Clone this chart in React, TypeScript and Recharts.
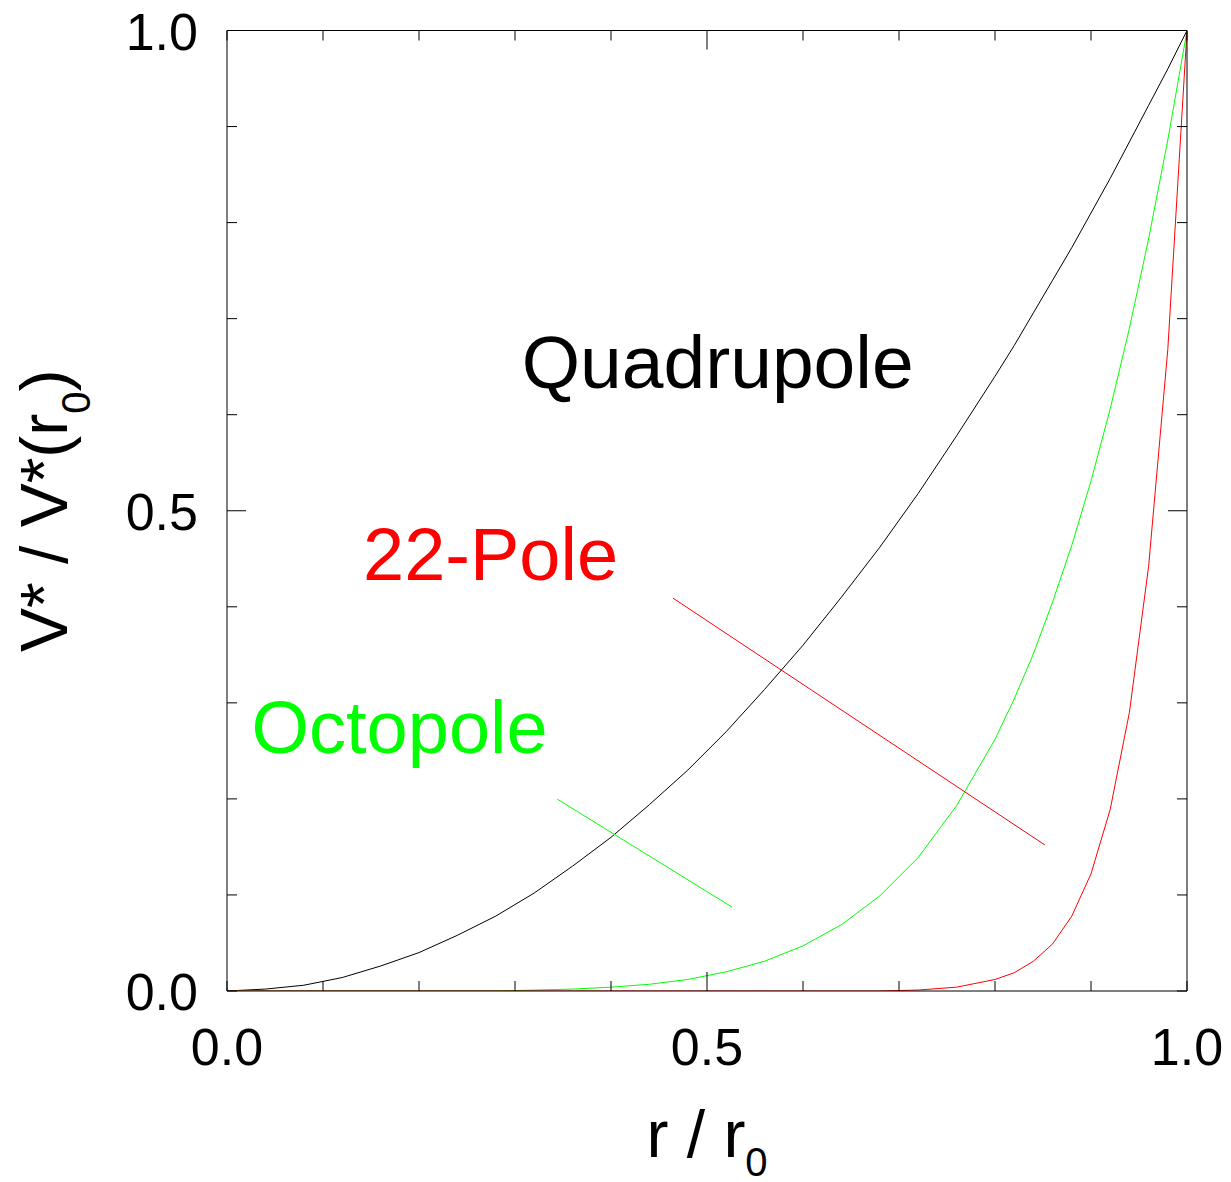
import React from "react";
import { LineChart, Line, XAxis, YAxis, ReferenceLine, ReferenceDot } from "recharts";

// r / r0 sample points
const radius = [
  0, 0.04, 0.08, 0.12, 0.16, 0.2, 0.24, 0.28, 0.32, 0.36, 0.4, 0.44, 0.48, 0.52, 0.56,
  0.6, 0.64, 0.68, 0.72, 0.76, 0.8, 0.82, 0.84, 0.86, 0.88, 0.9, 0.92, 0.94, 0.96, 0.98, 1.0,
];
// V* / V*(r0) for each trap type
const quadrupole = [
  0, 0.002, 0.006, 0.014, 0.026, 0.04, 0.058, 0.078, 0.102, 0.13, 0.16, 0.194, 0.23, 0.27, 0.314,
  0.36, 0.41, 0.462, 0.518, 0.578, 0.64, 0.672, 0.706, 0.74, 0.774, 0.81, 0.846, 0.884, 0.922, 0.96, 1.0,
];
const octopole = [
  0, 0, 0, 0, 0, 0, 0, 0, 0.001, 0.002, 0.004, 0.007, 0.012, 0.02, 0.031,
  0.047, 0.069, 0.099, 0.139, 0.193, 0.262, 0.304, 0.351, 0.405, 0.464, 0.531, 0.606, 0.69, 0.783, 0.886, 1.0,
];
const pole22 = [
  0, 0, 0, 0, 0, 0, 0, 0, 0, 0, 0, 0, 0, 0, 0,
  0, 0, 0, 0.001, 0.004, 0.012, 0.019, 0.031, 0.049, 0.078, 0.122, 0.189, 0.29, 0.442, 0.668, 1.0,
];

const axisTicks = [0, 0.1, 0.2, 0.3, 0.4, 0.5, 0.6, 0.7, 0.8, 0.9, 1.0];
const tickLabels: Record<string, string> = { "0": "0.0", "0.5": "0.5", "1": "1.0" };

const rows = radius.map((r, i) => ({
  r,
  quad: quadrupole[i],
  oct: octopole[i],
  p22: pole22[i],
}));

const FONT = "'Liberation Sans', Arial, Helvetica, sans-serif";
const W = 1231;
const H = 1182;

const tickLen = (v: number) => (Math.abs(v - 0.5) < 1e-6 ? 19 : 10);

function BottomTick({ x, y, payload }: any) {
  const v = payload.value;
  const label = tickLabels[String(v)];
  return (
    <g>
      <line x1={x} x2={x} y1={y} y2={y - tickLen(v)} stroke="#000" />
      {label && (
        <text x={x} y={y + 74} textAnchor="middle" fontSize={52} fontFamily={FONT} fill="#000">
          {label}
        </text>
      )}
    </g>
  );
}

function TopTick({ x, y, payload }: any) {
  return <line x1={x} x2={x} y1={y} y2={y + tickLen(payload.value)} stroke="#000" />;
}

function LeftTick({ x, y, payload }: any) {
  const v = payload.value;
  const label = tickLabels[String(v)];
  return (
    <g>
      <line x1={x} x2={x + tickLen(v)} y1={y} y2={y} stroke="#000" />
      {label && (
        <text x={x - 29} y={y + 19} textAnchor="end" fontSize={52} fontFamily={FONT} fill="#000">
          {label}
        </text>
      )}
    </g>
  );
}

function RightTick({ x, y, payload }: any) {
  return <line x1={x} x2={x - tickLen(payload.value)} y1={y} y2={y} stroke="#000" />;
}

function XTitle({ viewBox }: any) {
  const cx = viewBox.x + viewBox.width / 2;
  return (
    <text x={cx} y={viewBox.y + 166} textAnchor="middle" fontSize={66} fontFamily={FONT} fill="#000">
      r / r
      <tspan dy={19} fontSize={40}>0</tspan>
    </text>
  );
}

function YTitle({ viewBox }: any) {
  const cy = viewBox.y + viewBox.height / 2;
  const bx = 67;
  return (
    <text
      x={bx}
      y={cy}
      transform={`rotate(-90, ${bx}, ${cy})`}
      textAnchor="middle"
      fontSize={66}
      fontFamily={FONT}
      fill="#000"
    >
      V* / V*(r
      <tspan dy={23} fontSize={40}>0</tspan>
      <tspan dy={-23}>)</tspan>
    </text>
  );
}

// curve names, placed at text start / baseline in data units
const annotations = [
  { text: "Quadrupole", x: 0.307, y: 0.6275, color: "#000000", size: 75 },
  { text: "22-Pole", x: 0.1417, y: 0.4277, color: "#ff0000", size: 74 },
  { text: "Octopole", x: 0.0255, y: 0.2477, color: "#00ff00", size: 74 },
];

const axisCommon = {
  type: "number" as const,
  domain: [0, 1] as [number, number],
  allowDataOverflow: true,
  ticks: axisTicks,
  interval: 0 as const,
  tickSize: 0,
  tickMargin: 0,
  tickLine: false,
  axisLine: { stroke: "#000" },
};

export default function App() {
  return (
    <div style={{ position: "absolute", left: 0, top: 0, width: W, height: H, background: "#fff" }}>
      <LineChart
        width={W}
        height={H}
        data={rows}
        margin={{ top: 28.5, right: 42, bottom: 0, left: 0 }}
      >
        <XAxis
          {...axisCommon}
          dataKey="r"
          height={191}
          tick={(p: any) => <BottomTick {...p} />}
          label={(p: any) => <XTitle {...p} />}
        />
        <XAxis
          {...axisCommon}
          xAxisId="top"
          orientation="top"
          dataKey="r"
          height={2}
          tick={(p: any) => <TopTick {...p} />}
        />
        <YAxis
          {...axisCommon}
          width={227}
          tick={(p: any) => <LeftTick {...p} />}
          label={(p: any) => <YTitle {...p} />}
        />
        <YAxis
          {...axisCommon}
          yAxisId="right"
          orientation="right"
          dataKey="quad"
          width={2}
          tick={(p: any) => <RightTick {...p} />}
        />
        <Line type="linear" dataKey="quad" stroke="#000000" strokeWidth={1} dot={false} isAnimationActive={false} />
        <Line type="linear" dataKey="oct" stroke="#00ff00" strokeWidth={1} dot={false} isAnimationActive={false} />
        <Line type="linear" dataKey="p22" stroke="#ff0000" strokeWidth={1} dot={false} isAnimationActive={false} />
        <ReferenceLine
          segment={[{ x: 0.4646, y: 0.409 }, { x: 0.852, y: 0.152 }]}
          stroke="#ff0000"
          strokeWidth={1}
          ifOverflow="visible"
        />
        <ReferenceLine
          segment={[{ x: 0.344, y: 0.1998 }, { x: 0.526, y: 0.0874 }]}
          stroke="#00ff00"
          strokeWidth={1}
          ifOverflow="visible"
        />
        {annotations.map((a) => (
          <ReferenceDot
            key={a.text}
            x={a.x}
            y={a.y}
            r={0}
            fill="none"
            stroke="none"
            ifOverflow="visible"
            label={(p: any) => {
              const vb = p.viewBox || {};
              return (
                <text x={vb.x} y={vb.y} fontSize={a.size} fontFamily={FONT} fill={a.color}>
                  {a.text}
                </text>
              );
            }}
          />
        ))}
      </LineChart>
    </div>
  );
}
